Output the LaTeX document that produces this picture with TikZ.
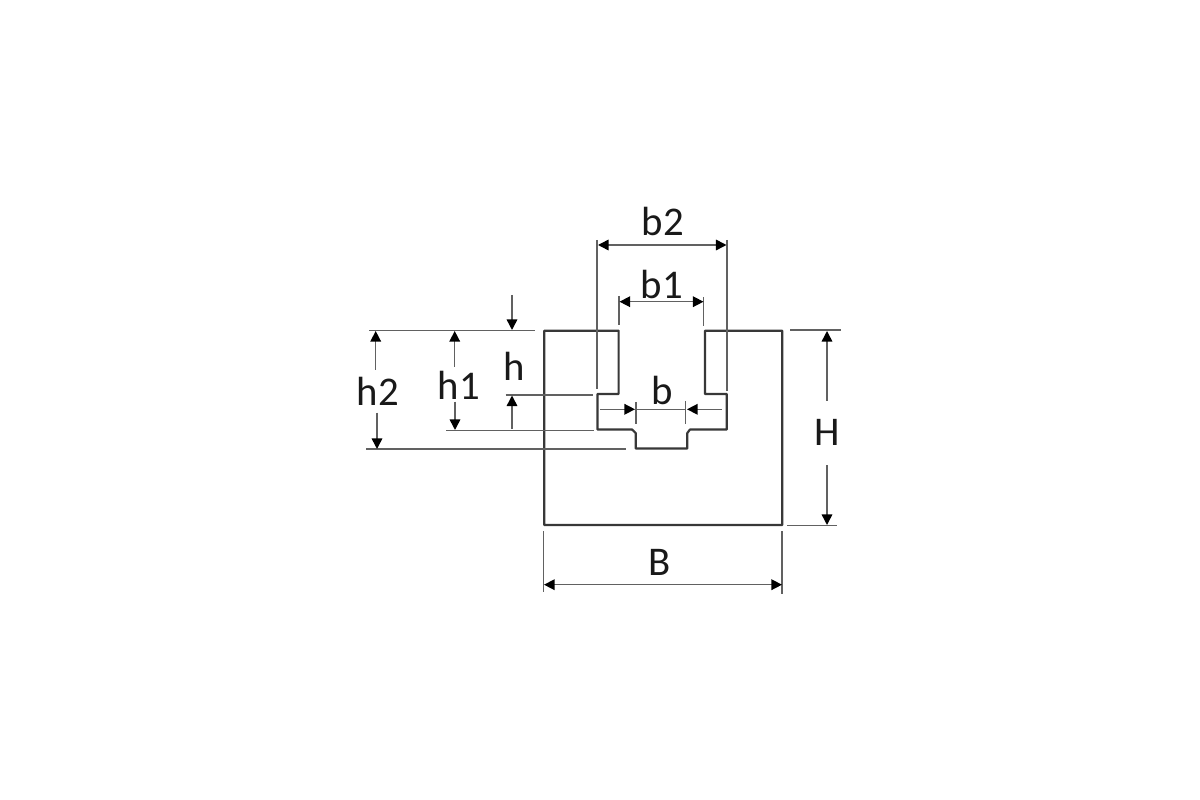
\documentclass[tikz,border=0pt]{standalone}
\usepackage{fontspec}
\setmainfont{Carlito}
\usetikzlibrary{arrows.meta}

\begin{document}
\begin{tikzpicture}
        [
          x=0.02cm,
          y=-0.02cm,
          profile/.style={draw=black!78,line width=1.25pt,line join=round},
          extline/.style={draw=black!62,line width=0.85pt},
          dimline/.style={draw=black!62,line width=0.85pt,{Triangle[length=6pt,width=6pt,black]}-{Triangle[length=6pt,width=6pt,black]}},
          dimhalf/.style={draw=black!62,line width=0.85pt,-{Triangle[length=6pt,width=6pt,black]}},
          dimlabel/.style={font=\fontsize{23.2}{24}\selectfont,text=black!90,inner sep=0pt}
        ]

        \useasboundingbox (0,0) rectangle (1200,800);

        % profile
        \draw[profile] (544.3,330.7) -- (618.6,330.7) -- (618.6,394) -- (597.5,394)
          -- (597.5,429.5) -- (632,429.5) -- (635.7,433) -- (635.7,448.5) -- (687.3,448.5)
          -- (687.3,433) -- (690,429.5) -- (726.7,429.5) -- (726.7,394) -- (705,394)
          -- (705,330.7) -- (782.3,330.7) -- (782.3,525) -- (544.3,525) -- cycle;

        % extension lines
        \draw[extline] (597,240) -- (597,389);
        \draw[extline] (727,240) -- (727,391);
        \draw[extline] (619,296) -- (619,325);
        \draw[extline] (703.5,297) -- (703.5,326);
        \draw[extline] (636,402) -- (636,424);
        \draw[extline] (685.7,401) -- (685.7,424);
        \draw[extline] (790,330) -- (841,330);
        \draw[extline] (787,525.7) -- (837,525.7);
        \draw[extline] (543.3,531) -- (543.3,592);
        \draw[extline] (782,531) -- (782,594);
        \draw[extline] (369,330.7) -- (535,330.7);
        \draw[extline] (505.7,395) -- (592.7,395);
        \draw[extline] (446,430.7) -- (594,430.7);
        \draw[extline] (366,449) -- (626,449);

        % dimensions
        \draw[dimline] (598,245) -- (726.5,245);
        \draw[dimline] (619.5,301.7) -- (703.5,301.7);
        \draw[dimline] (544,584.7) -- (782,584.7);
        \draw[dimhalf] (600,409.3) -- (635,409.3);
        \draw[dimhalf] (722,409.3) -- (687,409.3);
        \draw[extline] (636,409.3) -- (685.7,409.3);
        \draw[dimhalf] (827,401) -- (827,331);
        \draw[dimhalf] (827,465) -- (827,525);
        \draw[dimhalf] (512,295) -- (512,330);
        \draw[dimhalf] (512,429) -- (512,395.5);
        \draw[dimhalf] (454.7,367) -- (454.7,331);
        \draw[dimhalf] (455,401.7) -- (455,430);
        \draw[dimhalf] (375.7,370) -- (375.7,331);
        \draw[dimhalf] (377,412.7) -- (377,449);

        % labels
        \node[dimlabel] (labb2) at (663,221) {b2};
        \node[dimlabel] (labb1) at (662,284) {b1};
        \node[dimlabel] (labb) at (662,390) {b};
        \node[dimlabel] (labH) at (827,432) {H};
        \node[dimlabel] (labB) at (660,562) {B};
        \node[dimlabel] (labh) at (514,366) {h};
        \node[dimlabel] (labh1) at (459,385) {h1};
        \node[dimlabel] (labh2) at (378,391) {h2};
\end{tikzpicture}
\end{document}
